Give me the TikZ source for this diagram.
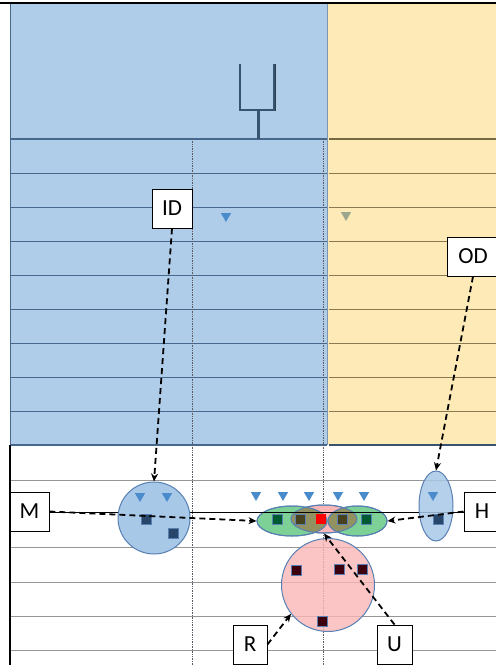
\documentclass[tikz,border=0pt]{standalone}
\usepackage{fontspec}
\setmainfont{Carlito}
\usetikzlibrary{shapes.geometric,arrows.meta}
\definecolor{blueBG}{RGB}{175,205,233}
\definecolor{yellowBG}{RGB}{254,234,183}
\definecolor{blueLine}{RGB}{70,104,140}
\definecolor{yellowLine}{RGB}{138,122,79}
\definecolor{triBlue}{RGB}{74,139,203}
\definecolor{triOlive}{RGB}{156,165,141}
\definecolor{shapeBlue}{RGB}{168,200,232}
\definecolor{shapeEdge}{RGB}{88,128,178}
\definecolor{greenF}{RGB}{125,208,150}
\definecolor{pinkF}{RGB}{250,182,182}
\definecolor{oliveF}{RGB}{145,145,98}
\definecolor{sqBlue}{RGB}{40,70,105}
\definecolor{sqGreen}{RGB}{0,90,50}
\definecolor{sqOlive}{RGB}{70,65,30}
\definecolor{sqMaroon}{RGB}{60,0,15}
\definecolor{gridGray}{RGB}{150,150,150}
\definecolor{dotGray}{RGB}{90,90,100}
\begin{document}
\begin{tikzpicture}[x=1pt,y=-1pt,
  lbl/.style={draw=black,line width=0.9pt,fill=white,inner sep=0pt,font=\fontsize{23}{25}\selectfont},
  arr/.style={draw=black,line width=1.8pt,dash pattern=on 6pt off 4pt,-{Stealth[length=8pt,width=7pt]}},
  tri/.style={regular polygon,regular polygon sides=3,shape border rotate=180,inner sep=0pt,minimum size=12pt,fill=#1,draw=none},
  sq/.style={rectangle,inner sep=0pt,minimum size=10pt,fill=#1,draw=shapeEdge,line width=0.6pt},
  bshape/.style={fill=shapeBlue,draw=shapeEdge,line width=1pt,inner sep=0pt},
  dotv/.style={draw=dotGray,line width=0.7pt,densely dotted}]
\useasboundingbox (0,0) rectangle (496,665);
% backgrounds
\fill[blueBG] (10,4) rectangle (328,445);
\fill[yellowBG] (328,4) rectangle (496,445);
\draw[black,line width=1.5pt] (0,3) -- (496,3);
% grid lines in top part
\foreach \y in {173,207,241,275,309,343,377,411} {
  \draw[blueLine,line width=1pt] (10,\y) -- (327,\y);
  \draw[yellowLine,line width=1pt] (329,\y) -- (496,\y);
}
\draw[blueLine,line width=2pt] (10,139) -- (327,139);
\draw[yellowLine!85!black,line width=2pt] (329,139) -- (496,139);
\draw[blueLine,line width=2pt] (10,445) -- (327,445);
\draw[blueLine!80!black,line width=2pt] (329,445) -- (496,445);
\draw[blueLine,line width=1pt] (10,4) -- (10,445);
\draw[blueLine!70,line width=1.2pt] (327.5,4) -- (327.5,445);
% fork symbol
\draw[blueLine!80!black,line width=3pt] (258,111) -- (258,139);
\draw[blueLine!80!black,line width=1.6pt] (240,64) -- (240,110) -- (274,110) -- (274,64);
\draw[blueLine!60!black,line width=1pt] (275.3,64) -- (275.3,111);
% bottom grid
\foreach \y in {480,547,582,616,650} \draw[gridGray,line width=1pt] (10,\y) -- (496,\y);
\draw[black,line width=1.5pt] (10,445) -- (10,665);
% dotted verticals
\draw[dotv] (192,139) -- (192,665);
\draw[dotv] (323,139) -- (323,665);
% triangles in top part
\node[tri=triBlue] (t0) at (226,216) {};
\node[tri=triOlive] (t1) at (346,215) {};
% small pink and green ellipses
\node[ellipse,fill=pinkF,draw=shapeEdge,line width=1pt,minimum width=66pt,minimum height=28pt,inner sep=0pt] (ps) at (324,519) {};
\node[ellipse,fill=greenF,draw=shapeEdge,line width=1pt,minimum width=70pt,minimum height=30pt,inner sep=0pt] (gl) at (292,521) {};
\node[ellipse,fill=greenF,draw=shapeEdge,line width=1pt,minimum width=59pt,minimum height=30pt,inner sep=0pt] (gr) at (357.5,521) {};
\begin{scope}
  \clip (292,521) ellipse [x radius=35pt, y radius=15pt];
  \fill[oliveF] (324,519) ellipse [x radius=33pt, y radius=14pt];
\end{scope}
\begin{scope}
  \clip (357.5,521) ellipse [x radius=29.5pt, y radius=15pt];
  \fill[oliveF] (324,519) ellipse [x radius=33pt, y radius=14pt];
\end{scope}
\draw[shapeEdge,line width=1pt] (324,519) ellipse [x radius=33pt, y radius=14pt];
\draw[shapeEdge,line width=1pt] (292,521) ellipse [x radius=35pt, y radius=15pt];
\draw[shapeEdge,line width=1pt] (357.5,521) ellipse [x radius=29.5pt, y radius=15pt];
% main black line
\draw[black,line width=1.3pt] (10,512.5) -- (496,512.5);
% left blue circle
\node[bshape,circle,minimum size=72pt] (bc) at (154,518) {};
\node[tri=triBlue] (t2) at (140,496) {};
\node[tri=triBlue] (t3) at (167,496) {};
\node[sq=sqBlue] (s1) at (146,519) {};
\node[sq=sqBlue] (s2) at (173,533) {};
% right blue ellipse
\node[bshape,ellipse,minimum width=34pt,minimum height=70pt,fill opacity=0.85] (be) at (436,506) {};
\node[tri=triBlue] (t4) at (433,495) {};
\node[sq=sqBlue] (s3) at (438,519) {};
% triangles above ellipses
\node[tri=triBlue] (t5) at (256,495) {};
\node[tri=triBlue] (t6) at (283,495) {};
\node[tri=triBlue] (t7) at (309,495) {};
\node[tri=triBlue] (t8) at (338,495) {};
\node[tri=triBlue] (t9) at (364,495) {};
% squares in small ellipses
\node[sq=sqGreen] (g1) at (277,519) {};
\node[sq=sqOlive] (o1) at (300,519) {};
\node[sq=red,draw=none] (r0) at (321,519) {};
\node[sq=sqOlive] (o2) at (342,519) {};
\node[sq=sqGreen] (g2) at (366,519) {};
% big pink circle
\node[circle,fill=pinkF,fill opacity=0.8,draw=shapeEdge,line width=1pt,minimum size=93pt,inner sep=0pt] (pc) at (328,585) {};
\node[sq=sqMaroon] (m1) at (296,570) {};
\node[sq=sqMaroon] (m2) at (339,569) {};
\node[sq=sqMaroon] (m3) at (362,569) {};
\node[sq=sqMaroon] (m4) at (322,621) {};
% labels
\node[lbl,minimum width=40pt,minimum height=39pt] (ID) at (172,208.5) {ID};
\node[lbl,minimum width=52pt,minimum height=39pt] (OD) at (473,256.5) {OD};
\node[lbl,minimum width=39pt,minimum height=39pt] (M) at (29.5,511.5) {M};
\node[lbl,minimum width=36pt,minimum height=39pt] (H) at (482,511.5) {H};
\node[lbl,minimum width=34pt,minimum height=39pt] (R) at (250,644.5) {R};
\node[lbl,minimum width=35pt,minimum height=39pt] (U) at (394.5,644.5) {U};
% arrows
\draw[arr] (ID.south) -- (bc.north);
\draw[arr] (OD.south) -- (be.north);
\draw[arr] (M.east) -- (gl.west);
\draw[arr] (H.west) -- (gr.east);
\draw[arr] (R.east) -- (pc.218);
\draw[arr] (U.north) -- (ps.south);
\end{tikzpicture}
\end{document}
